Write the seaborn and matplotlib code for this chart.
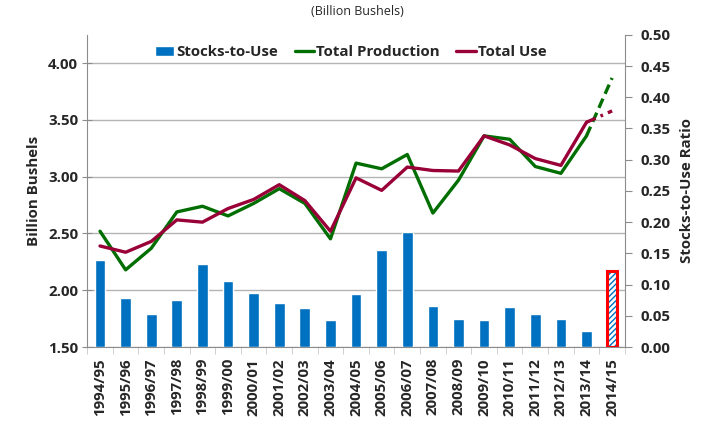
import numpy as np
import seaborn as sns
import matplotlib.pyplot as plt
from matplotlib.ticker import FormatStrFormatter, FixedLocator

# Marketing years
seasons = ['1994/95', '1995/96', '1996/97', '1997/98', '1998/99', '1999/00',
           '2000/01', '2001/02', '2002/03', '2003/04', '2004/05', '2005/06',
           '2006/07', '2007/08', '2008/09', '2009/10', '2010/11', '2011/12',
           '2012/13', '2013/14', '2014/15']

# Stocks-to-use ratio (right axis)
stocks_to_use = [0.139, 0.078, 0.053, 0.075, 0.133, 0.106, 0.087, 0.070, 0.0625,
                 0.043, 0.085, 0.155, 0.185, 0.066, 0.0445, 0.044, 0.064, 0.0525,
                 0.0445, 0.025, 0.122]

# Billion bushels (left axis)
production = [2.52, 2.18, 2.37, 2.69, 2.74, 2.655, 2.765, 2.895, 2.765, 2.453,
              3.12, 3.07, 3.196, 2.68, 2.97, 3.36, 3.33, 3.09, 3.03, 3.36, 3.87]
total_use = [2.39, 2.335, 2.43, 2.62, 2.60, 2.72, 2.80, 2.93, 2.79, 2.52,
             2.99, 2.88, 3.085, 3.055, 3.05, 3.36, 3.28, 3.16, 3.10, 3.48, 3.58]

left_ticks = [1.5, 2.0, 2.5, 3.0, 3.5, 4.0]
right_ticks = [0.0, 0.05, 0.10, 0.15, 0.20, 0.25, 0.30, 0.35, 0.40, 0.45, 0.50]

BLUE = '#0070C0'
GREEN = '#006E00'
MAROON = '#990038'
GRAY = '#8c8c8c'
FS = 10.8

sns.set_style('white')
plt.rcParams['font.family'] = ['Open Sans', 'DejaVu Sans']

fig = plt.figure(figsize=(7.15, 4.25), dpi=100)
ax = fig.add_axes([0.122, 0.1835, 0.752, 0.7345])   # left scale + grid
axb = ax.twinx()                                    # bars, right scale
axl = ax.twinx()                                    # lines, left scale

ax.set_zorder(0)
axb.set_zorder(1)
axl.set_zorder(2)
axb.patch.set_visible(False)
axl.patch.set_visible(False)

n = len(seasons)
idx = np.arange(n)

# Bars
sns.barplot(x=seasons, y=stocks_to_use, color=BLUE, saturation=1, width=0.42,
            ax=axb, label='Stocks-to-Use')
last = axb.patches[-1]
last.set_facecolor('white')
last.set_edgecolor(BLUE)
last.set_hatch('//////')
last.set_linewidth(0)
axb.bar(idx[-1:], stocks_to_use[-1:], width=0.42, fill=False,
        edgecolor='red', linewidth=2.2, zorder=3)

# Lines: solid history, dashed projection
sns.lineplot(x=idx[:-1], y=production[:-1], color=GREEN, lw=2.4, ax=axl,
             label='Total Production')
sns.lineplot(x=idx[-2:], y=production[-2:], color=GREEN, lw=2.4, ax=axl,
             dashes=False, linestyle=(0, (3, 1.6)))
sns.lineplot(x=idx[:-1], y=total_use[:-1], color=MAROON, lw=2.4, ax=axl,
             label='Total Use')
sns.lineplot(x=idx[-2:], y=total_use[-2:], color=MAROON, lw=2.4, ax=axl,
             dashes=False, linestyle=(0, (3, 1.6, 0.8, 1.6)))

# Left axis
ax.set_ylim(1.5, 4.25)
ax.set_yticks(left_ticks)
ax.yaxis.set_major_formatter(FormatStrFormatter('%.2f'))
ax.yaxis.grid(True, color='#b4b4b4', lw=1)
ax.xaxis.grid(False)
ax.set_ylabel('Billion Bushels', fontsize=FS, fontweight='bold', labelpad=5)
ax.tick_params(axis='y', labelsize=FS, direction='inout', length=7,
               color=GRAY, left=True, pad=3)
for lab in ax.get_yticklabels():
    lab.set_fontweight('bold')

axl.set_ylim(1.5, 4.25)
axl.set_yticks([])
axl.set_ylabel('')
for s in axl.spines.values():
    s.set_visible(False)

# Right axis
axb.set_ylim(0, 0.5)
axb.set_yticks(right_ticks)
axb.yaxis.set_major_formatter(FormatStrFormatter('%.2f'))
axb.set_ylabel('Stocks-to-Use Ratio', fontsize=FS, fontweight='bold', labelpad=7)
axb.tick_params(axis='y', labelsize=FS, direction='out', length=5,
                color=GRAY, right=True, pad=6)
for lab in axb.get_yticklabels():
    lab.set_fontweight('bold')

# X axis
ax.set_xlim(-0.5, n - 0.5)
ax.xaxis.set_major_locator(FixedLocator(idx))
ax.set_xticklabels(seasons, rotation=90, fontsize=FS, fontweight='bold')
ax.xaxis.set_minor_locator(FixedLocator(np.arange(-0.5, n, 1.0)))
ax.tick_params(axis='x', which='major', length=0, pad=8)
ax.tick_params(axis='x', which='minor', length=5, color='#c8c8c8',
               direction='out', bottom=True)

for a in (ax, axb):
    a.spines['top'].set_visible(False)
    for side in ('left', 'right', 'bottom'):
        a.spines[side].set_color(GRAY)
ax.spines['right'].set_visible(False)
axb.spines['left'].set_visible(False)
axb.spines['bottom'].set_visible(False)

# Legend (drop the automatic ones first)
hb, lb = axb.get_legend_handles_labels()
hl, ll = axl.get_legend_handles_labels()
if axb.get_legend() is not None:
    axb.get_legend().remove()
handles = hb[:1] + hl
labels = lb[:1] + ll
axl.legend(handles, labels, loc='upper center', bbox_to_anchor=(0.49, 1.01),
           ncol=3, frameon=False, handlelength=1.3, handletextpad=0.15,
           columnspacing=1.1, prop={'weight': 'bold', 'size': FS})

fig.text(0.5, 0.972, '(Billion Bushels)', ha='center', va='center', fontsize=9)

fig.savefig('out.png', dpi=100)
